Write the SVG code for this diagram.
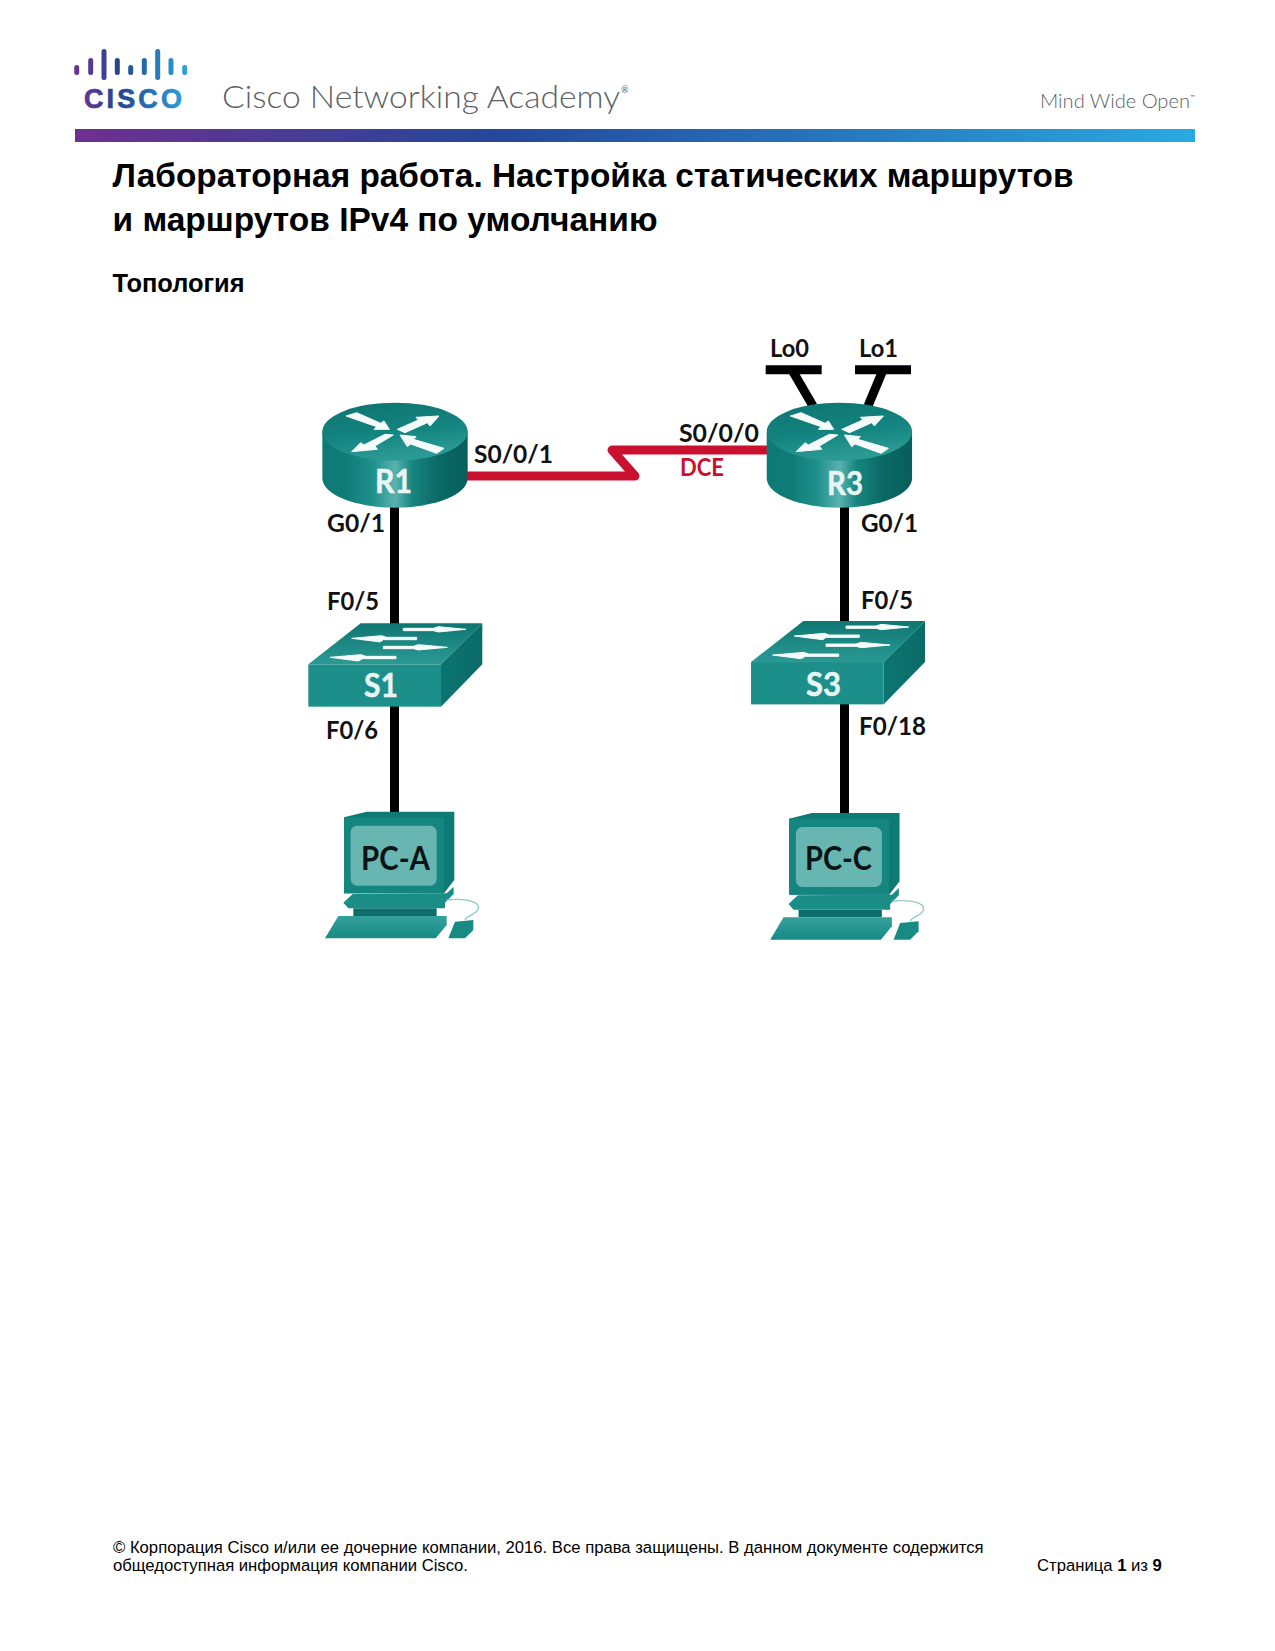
<svg xmlns="http://www.w3.org/2000/svg" width="1275" height="1651" viewBox="0 0 1275 1651">
<style>
.h{font-family:"Liberation Sans",Arial,sans-serif;fill:#000}
.b{font-weight:700}
.t{font-size:33.33px}
.f{font-size:16.67px}
.l{font-family:Lato,"Open Sans",sans-serif;font-weight:700;font-size:24px;fill:#111}
.w{font-family:Lato,"Open Sans",sans-serif;font-weight:700;font-size:33px;fill:#e8f5f4;stroke:#e8f5f4;stroke-width:.5}
.p{font-family:Lato,"Open Sans",sans-serif;font-weight:700;font-size:32px;fill:#0b1414}
.c{fill:none;stroke:#000;stroke-width:9}
.ar{fill:#f4fbfa;stroke:#f4fbfa;stroke-width:3;stroke-linejoin:round}
</style>
<defs>
<linearGradient id="barG" gradientUnits="userSpaceOnUse" x1="75" y1="0" x2="1195" y2="0"><stop offset="0" stop-color="#6f2f90"/><stop offset=".38" stop-color="#24489a"/><stop offset="1" stop-color="#2aa9e2"/></linearGradient>
<linearGradient id="logoG" gradientUnits="userSpaceOnUse" x1="74" y1="0" x2="188" y2="0"><stop offset="0" stop-color="#6f3392"/><stop offset=".4" stop-color="#24468f"/><stop offset="1" stop-color="#2ba4de"/></linearGradient>
<linearGradient id="rSide" gradientUnits="userSpaceOnUse" x1="97" y1="0" x2="533" y2="0"><stop offset="0" stop-color="#0e7a76"/><stop offset=".15" stop-color="#0f7a76"/><stop offset=".35" stop-color="#1f918c"/><stop offset=".5" stop-color="#5ab2ae"/><stop offset=".62" stop-color="#17857f"/><stop offset=".8" stop-color="#0a6966"/><stop offset="1" stop-color="#085e5b"/></linearGradient>
<linearGradient id="rTop" x1="0" y1="0" x2="0.3" y2="1"><stop offset="0" stop-color="#0e7470"/><stop offset=".6" stop-color="#138480"/><stop offset="1" stop-color="#2c9a94"/></linearGradient>
<linearGradient id="swTop" x1="0" y1="0" x2="0" y2="1"><stop offset="0" stop-color="#0e7672"/><stop offset="1" stop-color="#2b9a94"/></linearGradient>
<linearGradient id="swSide" x1="0" y1="0" x2="1" y2="0"><stop offset="0" stop-color="#0c7571"/><stop offset="1" stop-color="#0a6b67"/></linearGradient>
<linearGradient id="kb" x1="0" y1="0" x2="0" y2="1"><stop offset="0" stop-color="#34a19b"/><stop offset="1" stop-color="#178a85"/></linearGradient>
<g id="router" transform="translate(290,320) scale(.33333)">
<path d="M97 335V475A218 88 0 0 0 533 475V335Z" fill="url(#rSide)"/>
<ellipse cx="315" cy="335" rx="218" ry="87" fill="url(#rTop)"/>
<g class="ar">
<polygon points="168,288 200,278 272,310 282,303 298,328 252,328 260,320"/>
<polygon points="322,328 385,300 378,292 447,288 420,318 412,308 345,338"/>
<polygon points="310,345 255,378 262,388 185,395 212,368 222,375 285,343"/>
<polygon points="330,345 378,350 370,358 462,385 440,400 362,372 352,380"/>
</g>
</g>
<g id="switch" transform="translate(290,600) scale(.33333)">
<polygon points="55,193 212,70 577,70 453,193" fill="url(#swTop)"/>
<polygon points="453,193 577,70 577,193 453,320" fill="url(#swSide)"/>
<rect x="55" y="193" width="398" height="127" fill="#1d8f8a"/>
<g class="ar">
<polygon points="340,85 430,85 445,80 528,88 445,96 430,92 340,92"/>
<polygon points="380,112 290,112 275,107 185,115 270,126 280,119 380,119"/>
<polygon points="280,139 370,139 385,134 472,142 385,150 370,146 280,146"/>
<polygon points="318,169 228,169 213,164 120,172 205,183 218,176 318,176"/>
</g>
</g>
<g id="pc" transform="translate(290,600) scale(.33333)">
<polygon points="162,652 230,635 493,635 493,840 462,880 162,880" fill="#0e7a76"/>
<rect x="162" y="652" width="300" height="228" fill="#15857f"/>
<rect x="182" y="677" width="258" height="180" rx="20" fill="#68b6b2"/>
<polygon points="190,925 440,925 440,948 190,948" fill="#0d6f6b"/>
<polygon points="160,908 188,882 470,880 491,860 491,882 465,908 465,925 175,925" fill="#1b8d87"/>
<polygon points="105,1015 145,948 470,948 470,975 437,1015" fill="url(#kb)"/>
<polygon points="475,1015 495,965 550,960 550,990 525,1015" fill="#188a84"/>
<path d="M470 900C510 895 570 900 565 925C560 945 530 945 525 960" fill="none" stroke="#8fc9c5" stroke-width="4"/>
</g>
</defs>
<rect width="1275" height="1651" fill="#fff"/>
<g id="header">
<path d="M76.700 67.500V72.500M90.700 60.500V72.500M104 51.500V77.500M117.300 60.500V72.500M130.700 67.500V72.500M144.300 60.500V72.500M157.700 51.500V77.500M171 60.500V72.500M184.700 67.500V72.500" fill="none" stroke="url(#logoG)" stroke-width="5" stroke-linecap="round"/>
<text x="84" y="108" font-family="Liberation Sans,sans-serif" font-weight="700" font-size="27" fill="url(#logoG)" stroke="url(#logoG)" stroke-width=".7" textLength="98" lengthAdjust="spacing">CISCO</text>
<text x="222" y="108" font-family="Lato,sans-serif" font-weight="300" font-size="32" fill="#5c6166" textLength="398" lengthAdjust="spacingAndGlyphs">Cisco Networking Academy</text>
<text x="621" y="93" font-family="Lato,sans-serif" font-size="9" fill="#5c6166">®</text>
<text x="1040" y="108" font-family="Lato,sans-serif" font-weight="300" font-size="20" fill="#5c6166" textLength="150" lengthAdjust="spacingAndGlyphs">Mind Wide Open</text>
<text x="1190" y="99" font-family="Lato,sans-serif" font-size="6" fill="#5c6166">™</text>
<rect x="75" y="129" width="1120" height="13" fill="url(#barG)"/>
</g>
<g id="titles">
<text class="h b t" x="112.500" y="187" textLength="961" lengthAdjust="spacingAndGlyphs">Лабораторная работа. Настройка статических маршрутов</text>
<text class="h b t" x="112.500" y="231" textLength="545" lengthAdjust="spacingAndGlyphs">и маршрутов IPv4 по умолчанию</text>
<text class="h b" x="112.500" y="292" font-size="25" textLength="132" lengthAdjust="spacingAndGlyphs">Топология</text>
</g>
<g id="connectors">
<path class="c" d="M394.500 505V626M394.500 700V815"/>
<path class="c" d="M844.500 505V625M844.500 700V815"/>
<path d="M466 476H635L612 450H768" fill="none" stroke="#c9102f" stroke-width="9" stroke-linejoin="round" stroke-linecap="round"/>
<path class="c" d="M765.700 369.700H821.700M855 369.700H911"/>
<path class="c" d="M792 370L813 406M883 370L868 406"/>
</g>
<g id="R1"><use href="#router"/><text class="w" x="375" y="492.700" textLength="37" lengthAdjust="spacingAndGlyphs">R1</text></g>
<g id="R3"><use href="#router" transform="translate(444.400,0)"/><text class="w" x="827" y="494.500" textLength="36" lengthAdjust="spacingAndGlyphs">R3</text></g>
<g id="S1"><use href="#switch"/><text class="w" x="364" y="696.500" textLength="34" lengthAdjust="spacingAndGlyphs">S1</text></g>
<g id="S3"><use href="#switch" transform="translate(442.700,-2.300)"/><text class="w" x="806" y="695.500" textLength="35" lengthAdjust="spacingAndGlyphs">S3</text></g>
<g id="PC-A"><use href="#pc"/><text class="p" x="361" y="870" textLength="69" lengthAdjust="spacingAndGlyphs">PC-A</text></g>
<g id="PC-C"><use href="#pc" transform="translate(445.200,1.300)"/><text class="p" x="805" y="870" textLength="67" lengthAdjust="spacingAndGlyphs">PC-C</text></g>
<g id="labels">
<text class="l" x="474" y="462.500" textLength="79" lengthAdjust="spacingAndGlyphs">S0/0/1</text>
<text class="l" x="327" y="531.500" textLength="58" lengthAdjust="spacingAndGlyphs">G0/1</text>
<text class="l" x="327" y="610" textLength="52" lengthAdjust="spacingAndGlyphs">F0/5</text>
<text class="l" x="326" y="739" textLength="52" lengthAdjust="spacingAndGlyphs">F0/6</text>
<text class="l" x="679" y="441.500" textLength="80" lengthAdjust="spacingAndGlyphs">S0/0/0</text>
<text class="l" x="680" y="476" textLength="44" lengthAdjust="spacingAndGlyphs" style="fill:#c9102f">DCE</text>
<text class="l" x="770" y="356.500" textLength="39" lengthAdjust="spacingAndGlyphs">Lo0</text>
<text class="l" x="859" y="356.500" textLength="39" lengthAdjust="spacingAndGlyphs">Lo1</text>
<text class="l" x="861" y="531.500" textLength="57" lengthAdjust="spacingAndGlyphs">G0/1</text>
<text class="l" x="861" y="609" textLength="52" lengthAdjust="spacingAndGlyphs">F0/5</text>
<text class="l" x="859" y="735" textLength="67" lengthAdjust="spacingAndGlyphs">F0/18</text>
</g>
<g id="footer">
<text class="h f" x="113" y="1553">© Корпорация Cisco и/или ее дочерние компании, 2016. Все права защищены. В данном документе содержится</text>
<text class="h f" x="113" y="1571">общедоступная информация компании Cisco.</text>
<text class="h f" x="1037" y="1571">Страница <tspan class="b">1</tspan> из <tspan class="b">9</tspan></text>
</g>
</svg>
